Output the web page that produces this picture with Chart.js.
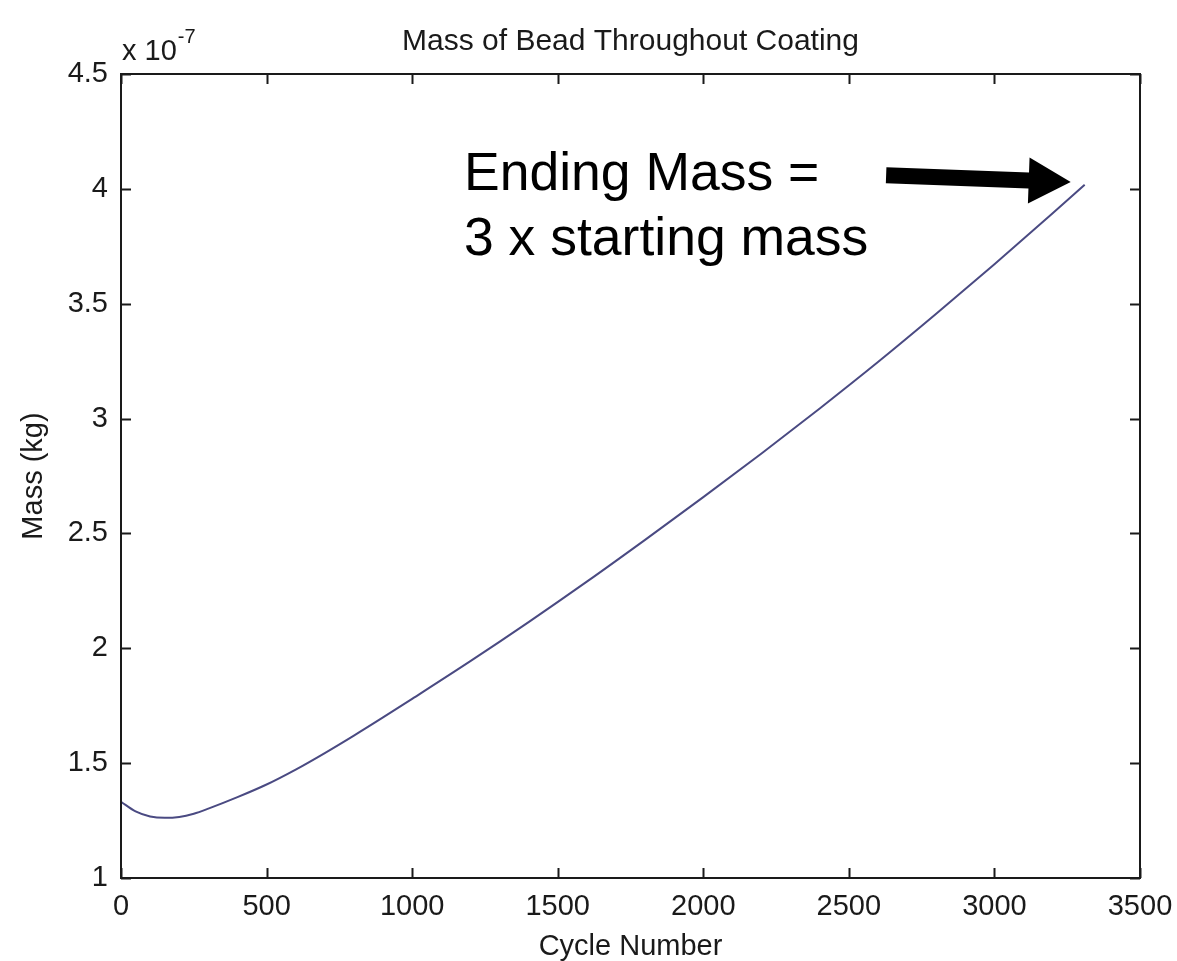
<!DOCTYPE html>
<html>
<head>
<meta charset="utf-8">
<script src="https://cdn.jsdelivr.net/npm/chart.js@4.4.1/dist/chart.umd.min.js"></script>
<style>
  html, body { margin: 0; padding: 0; background: #ffffff; overflow: hidden; }
  #wrap { width: 1177px; height: 961px; position: relative; }
</style>
</head>
<body>
<div id="wrap"><canvas id="c" width="1177" height="961"></canvas></div>
<script>
// ---- data (mass in units of 1e-7 kg) ----
const cycleNumber = [0, 50, 100, 150, 200, 250, 300, 400, 500, 600, 700, 800, 900, 1000,
                     1200, 1400, 1600, 1800, 2000, 2200, 2400, 2600, 2800, 3000, 3200, 3310];
const massE7 = [1.332, 1.290, 1.268, 1.262, 1.266, 1.280, 1.302, 1.352, 1.407, 1.472, 1.544, 1.620, 1.699, 1.780,
                1.944, 2.114, 2.290, 2.472, 2.658, 2.848, 3.044, 3.246, 3.456, 3.672, 3.894, 4.018];
const xTicks = [0, 500, 1000, 1500, 2000, 2500, 3000, 3500];
const yTicks = [1, 1.5, 2, 2.5, 3, 3.5, 4, 4.5];
const yExponentLabel = ['x 10', '-7'];
const titleText = 'Mass of Bead Throughout Coating';
const xTitle = 'Cycle Number';
const yTitle = 'Mass (kg)';
const annotationLines = ['Ending Mass =', '3 x starting mass'];
// annotation anchors in data coordinates
const annotationAnchor = { x: 1178, y1: 3.995, y2: 3.712 };
const arrowTail = { x: 2628, y: 4.059 };
const arrowTip = { x: 3262, y: 4.030 };

const FONT = '"Liberation Sans", Arial, Helvetica, sans-serif';
const INK = '#1a1a1a';

const points = cycleNumber.map((x, i) => ({ x: x, y: massE7[i] }));

const framePlugin = {
  id: 'matlabFrame',
  afterDraw(chart) {
    const ctx = chart.ctx;
    const a = chart.chartArea;
    const xs = chart.scales.x, ys = chart.scales.y;
    ctx.save();
    ctx.strokeStyle = INK;
    ctx.lineWidth = 2;
    ctx.strokeRect(a.left, a.top, a.right - a.left, a.bottom - a.top);
    const tl = 10;
    ctx.beginPath();
    xTicks.forEach(v => {
      const px = Math.round(xs.getPixelForValue(v)) + 0.5;
      ctx.moveTo(px, a.bottom); ctx.lineTo(px, a.bottom - tl);
      ctx.moveTo(px, a.top); ctx.lineTo(px, a.top + tl);
    });
    yTicks.forEach(v => {
      const py = Math.round(ys.getPixelForValue(v)) + 0.5;
      ctx.moveTo(a.left, py); ctx.lineTo(a.left + tl, py);
      ctx.moveTo(a.right, py); ctx.lineTo(a.right - tl, py);
    });
    ctx.stroke();

    // exponent label
    ctx.fillStyle = INK;
    ctx.textAlign = 'left';
    ctx.textBaseline = 'alphabetic';
    ctx.font = '29px ' + FONT;
    ctx.fillText(yExponentLabel[0], a.left + 1, a.top - 14);
    const w = ctx.measureText(yExponentLabel[0]).width;
    ctx.font = '20px ' + FONT;
    ctx.fillText(yExponentLabel[1], a.left + 2 + w, a.top - 31);

    // annotation text
    ctx.fillStyle = '#000';
    ctx.font = '53.5px ' + FONT;
    const ax = xs.getPixelForValue(annotationAnchor.x);
    ctx.fillText(annotationLines[0], ax, ys.getPixelForValue(annotationAnchor.y1));
    ctx.fillText(annotationLines[1], ax, ys.getPixelForValue(annotationAnchor.y2));

    // arrow
    const tx = xs.getPixelForValue(arrowTail.x), ty = ys.getPixelForValue(arrowTail.y);
    const hx = xs.getPixelForValue(arrowTip.x), hy = ys.getPixelForValue(arrowTip.y);
    const dx = hx - tx, dy = hy - ty, len = Math.hypot(dx, dy);
    const ux = dx / len, uy = dy / len, nx = -uy, ny = ux;
    const shaftHalf = 8, headHalf = 23, headLen = 42;
    const bx = hx - ux * headLen, by = hy - uy * headLen;
    ctx.beginPath();
    ctx.moveTo(tx + nx * shaftHalf, ty + ny * shaftHalf);
    ctx.lineTo(bx + nx * shaftHalf, by + ny * shaftHalf);
    ctx.lineTo(bx + nx * headHalf, by + ny * headHalf);
    ctx.lineTo(hx, hy);
    ctx.lineTo(bx - nx * headHalf, by - ny * headHalf);
    ctx.lineTo(bx - nx * shaftHalf, by - ny * shaftHalf);
    ctx.lineTo(tx - nx * shaftHalf, ty - ny * shaftHalf);
    ctx.closePath();
    ctx.fill();
    ctx.restore();
  }
};

new Chart(document.getElementById('c'), {
  type: 'line',
  data: {
    datasets: [{
      label: 'Mass',
      data: points,
      borderColor: '#4a4a82',
      borderWidth: 2,
      pointRadius: 0,
      fill: false,
      cubicInterpolationMode: 'monotone'
    }]
  },
  options: {
    responsive: false,
    animation: false,
    layout: { padding: { left: 0, right: 37, top: 0, bottom: 0 } },
    plugins: {
      legend: { display: false },
      tooltip: { enabled: false },
      title: {
        display: true,
        text: titleText,
        fullSize: false,
        color: INK,
        font: { family: FONT, size: 30, weight: 'normal' },
        padding: { top: 24, bottom: 14 }
      }
    },
    scales: {
      x: {
        type: 'linear',
        min: 0, max: 3500,
        grid: { display: false, drawTicks: false },
        border: { display: false },
        afterBuildTicks: s => { s.ticks = xTicks.map(v => ({ value: v })); },
        afterFit: s => { s.height = 83; s.paddingLeft = 0; s.paddingRight = 0; },
        ticks: {
          color: INK, padding: 12, maxRotation: 0, autoSkip: false,
          font: { family: FONT, size: 29 },
          callback: v => String(v)
        },
        title: {
          display: true, text: xTitle, color: INK,
          font: { family: FONT, size: 29 },
          padding: { top: 0, bottom: -3 }
        }
      },
      y: {
        type: 'linear',
        min: 1, max: 4.5,
        grid: { display: false, drawTicks: false },
        border: { display: false },
        afterBuildTicks: s => { s.ticks = yTicks.map(v => ({ value: v })); },
        afterFit: s => { s.width = 121; },
        ticks: {
          color: INK, padding: 13, autoSkip: false,
          font: { family: FONT, size: 29 },
          callback: v => String(v)
        },
        title: {
          display: true, text: yTitle, color: INK,
          font: { family: FONT, size: 29 },
          padding: { top: 17, bottom: 0 }
        }
      }
    }
  },
  plugins: [framePlugin]
});
</script>
</body>
</html>
